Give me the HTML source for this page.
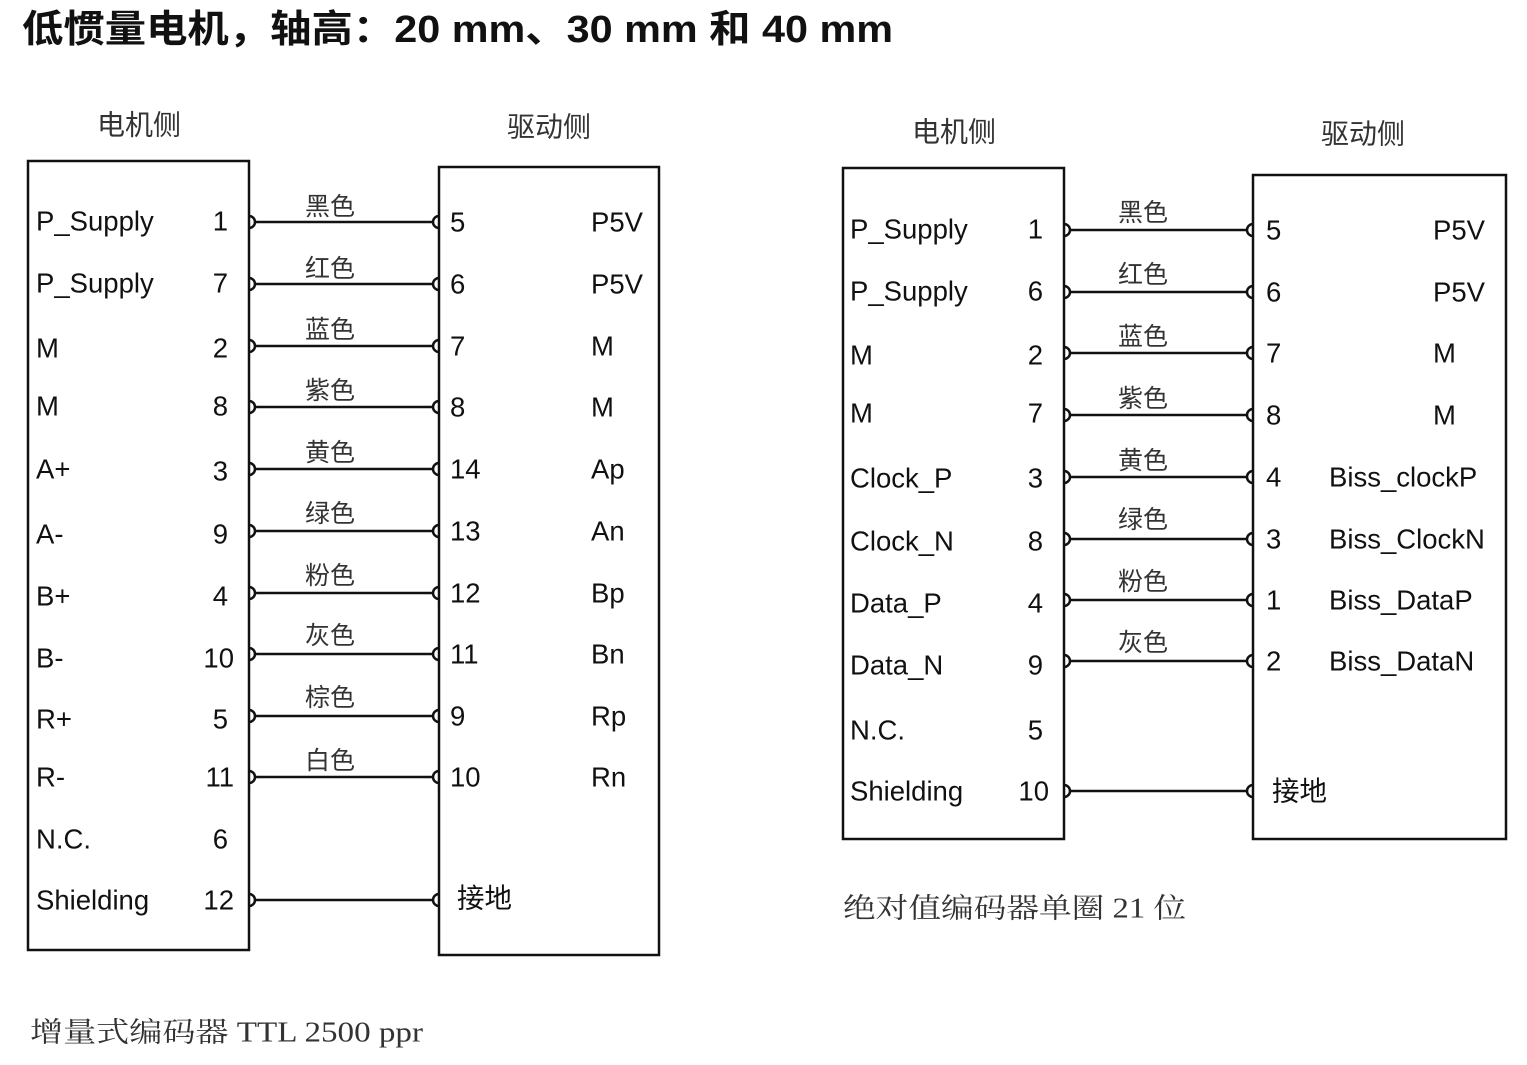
<!DOCTYPE html>
<html><head><meta charset="utf-8"><style>
html,body{margin:0;padding:0;background:#fff;width:1527px;height:1065px;overflow:hidden}
svg text{font-family:"Liberation Sans","Noto Sans CJK SC",sans-serif;fill:#111}
.t{font-size:27.5px;dominant-baseline:central}
.c{font-size:25px;dominant-baseline:central;text-anchor:middle;fill:#333}
.h{font-size:28px;dominant-baseline:central;text-anchor:middle;fill:#333}
.s{font-family:"Liberation Serif","Noto Serif CJK SC",serif !important;font-size:28px;dominant-baseline:central;fill:#333}
.e{text-anchor:end}
</style></head><body>
<svg width="1527" height="1065" xmlns="http://www.w3.org/2000/svg">
<text x="22" y="30" font-size="38" font-weight="bold" dominant-baseline="central" textLength="871" lengthAdjust="spacingAndGlyphs">低惯量电机，轴高：20 mm、30 mm 和 40 mm</text>
<g fill="none" stroke="#111" stroke-width="2.5">
<rect x="28" y="161" width="221" height="789"/>
<rect x="439" y="167" width="220" height="788"/>
<rect x="843" y="168" width="221" height="671"/>
<rect x="1253" y="175" width="253" height="664"/>
</g>
<text class="h" x="139" y="125">电机侧</text>
<text class="h" x="549" y="127">驱动侧</text>
<text class="h" x="954" y="132">电机侧</text>
<text class="h" x="1363" y="134">驱动侧</text>
<g fill="none" stroke="#111" stroke-width="2.5">
<path d="M249 216a6 6 0 0 1 0 12M254 222H433M439 216a6 6 0 0 0 0 12"/>
<path d="M249 278a6 6 0 0 1 0 12M254 284H433M439 278a6 6 0 0 0 0 12"/>
<path d="M249 340a6 6 0 0 1 0 12M254 346H433M439 340a6 6 0 0 0 0 12"/>
<path d="M249 401a6 6 0 0 1 0 12M254 407H433M439 401a6 6 0 0 0 0 12"/>
<path d="M249 463a6 6 0 0 1 0 12M254 469H433M439 463a6 6 0 0 0 0 12"/>
<path d="M249 525a6 6 0 0 1 0 12M254 531H433M439 525a6 6 0 0 0 0 12"/>
<path d="M249 587a6 6 0 0 1 0 12M254 593H433M439 587a6 6 0 0 0 0 12"/>
<path d="M249 648a6 6 0 0 1 0 12M254 654H433M439 648a6 6 0 0 0 0 12"/>
<path d="M249 710a6 6 0 0 1 0 12M254 716H433M439 710a6 6 0 0 0 0 12"/>
<path d="M249 771a6 6 0 0 1 0 12M254 777H433M439 771a6 6 0 0 0 0 12"/>
<path d="M249 894a6 6 0 0 1 0 12M254 900H433M439 894a6 6 0 0 0 0 12"/>
</g>
<g fill="none" stroke="#111" stroke-width="2.5">
<path d="M1064 224a6 6 0 0 1 0 12M1069 230H1247M1253 224a6 6 0 0 0 0 12"/>
<path d="M1064 286a6 6 0 0 1 0 12M1069 292H1247M1253 286a6 6 0 0 0 0 12"/>
<path d="M1064 347a6 6 0 0 1 0 12M1069 353H1247M1253 347a6 6 0 0 0 0 12"/>
<path d="M1064 409a6 6 0 0 1 0 12M1069 415H1247M1253 409a6 6 0 0 0 0 12"/>
<path d="M1064 471a6 6 0 0 1 0 12M1069 477H1247M1253 471a6 6 0 0 0 0 12"/>
<path d="M1064 533a6 6 0 0 1 0 12M1069 539H1247M1253 533a6 6 0 0 0 0 12"/>
<path d="M1064 594a6 6 0 0 1 0 12M1069 600H1247M1253 594a6 6 0 0 0 0 12"/>
<path d="M1064 655a6 6 0 0 1 0 12M1069 661H1247M1253 655a6 6 0 0 0 0 12"/>
<path d="M1064 785a6 6 0 0 1 0 12M1069 791H1247M1253 785a6 6 0 0 0 0 12"/>
</g>
<text class="t" x="36" y="221">P_Supply</text><text class="t e" x="228" y="221">1</text>
<text class="t" x="36" y="283">P_Supply</text><text class="t e" x="228" y="283">7</text>
<text class="t" x="36" y="348">M</text><text class="t e" x="228" y="348">2</text>
<text class="t" x="36" y="406">M</text><text class="t e" x="228" y="406">8</text>
<text class="t" x="36" y="469">A+</text><text class="t e" x="228" y="471">3</text>
<text class="t" x="36" y="534">A-</text><text class="t e" x="228" y="534">9</text>
<text class="t" x="36" y="596">B+</text><text class="t e" x="228" y="596">4</text>
<text class="t" x="36" y="658">B-</text><text class="t e" x="234" y="658">10</text>
<text class="t" x="36" y="719">R+</text><text class="t e" x="228" y="719">5</text>
<text class="t" x="36" y="777">R-</text><text class="t e" x="234" y="777">11</text>
<text class="t" x="36" y="839">N.C.</text><text class="t e" x="228" y="839">6</text>
<text class="t" x="36" y="900">Shielding</text><text class="t e" x="234" y="900">12</text>
<text class="t" x="450" y="222">5</text><text class="t" x="591" y="222">P5V</text>
<text class="t" x="450" y="284">6</text><text class="t" x="591" y="284">P5V</text>
<text class="t" x="450" y="346">7</text><text class="t" x="591" y="346">M</text>
<text class="t" x="450" y="407">8</text><text class="t" x="591" y="407">M</text>
<text class="t" x="450" y="469">14</text><text class="t" x="591" y="469">Ap</text>
<text class="t" x="450" y="531">13</text><text class="t" x="591" y="531">An</text>
<text class="t" x="450" y="593">12</text><text class="t" x="591" y="593">Bp</text>
<text class="t" x="450" y="654">11</text><text class="t" x="591" y="654">Bn</text>
<text class="t" x="450" y="716">9</text><text class="t" x="591" y="716">Rp</text>
<text class="t" x="450" y="777">10</text><text class="t" x="591" y="777">Rn</text>
<text class="t" x="457" y="898">接地</text>
<text class="c" x="330" y="207">黑色</text>
<text class="c" x="330" y="269">红色</text>
<text class="c" x="330" y="330">蓝色</text>
<text class="c" x="330" y="391">紫色</text>
<text class="c" x="330" y="453">黄色</text>
<text class="c" x="330" y="514">绿色</text>
<text class="c" x="330" y="576">粉色</text>
<text class="c" x="330" y="636">灰色</text>
<text class="c" x="330" y="698">棕色</text>
<text class="c" x="330" y="761">白色</text>
<text class="t" x="850" y="229">P_Supply</text><text class="t e" x="1043" y="229">1</text>
<text class="t" x="850" y="291">P_Supply</text><text class="t e" x="1043" y="291">6</text>
<text class="t" x="850" y="355">M</text><text class="t e" x="1043" y="355">2</text>
<text class="t" x="850" y="413">M</text><text class="t e" x="1043" y="413">7</text>
<text class="t" x="850" y="478">Clock_P</text><text class="t e" x="1043" y="478">3</text>
<text class="t" x="850" y="541">Clock_N</text><text class="t e" x="1043" y="541">8</text>
<text class="t" x="850" y="603">Data_P</text><text class="t e" x="1043" y="603">4</text>
<text class="t" x="850" y="665">Data_N</text><text class="t e" x="1043" y="665">9</text>
<text class="t" x="850" y="730">N.C.</text><text class="t e" x="1043" y="730">5</text>
<text class="t" x="850" y="791">Shielding</text><text class="t e" x="1049" y="791">10</text>
<text class="t" x="1266" y="230">5</text><text class="t" x="1433" y="230">P5V</text>
<text class="t" x="1266" y="292">6</text><text class="t" x="1433" y="292">P5V</text>
<text class="t" x="1266" y="353">7</text><text class="t" x="1433" y="353">M</text>
<text class="t" x="1266" y="415">8</text><text class="t" x="1433" y="415">M</text>
<text class="t" x="1266" y="477">4</text><text class="t" x="1329" y="477">Biss_clockP</text>
<text class="t" x="1266" y="539">3</text><text class="t" x="1329" y="539">Biss_ClockN</text>
<text class="t" x="1266" y="600">1</text><text class="t" x="1329" y="600">Biss_DataP</text>
<text class="t" x="1266" y="661">2</text><text class="t" x="1329" y="661">Biss_DataN</text>
<text class="t" x="1272" y="791">接地</text>
<text class="c" x="1143" y="213">黑色</text>
<text class="c" x="1143" y="275">红色</text>
<text class="c" x="1143" y="337">蓝色</text>
<text class="c" x="1143" y="399">紫色</text>
<text class="c" x="1143" y="461">黄色</text>
<text class="c" x="1143" y="520">绿色</text>
<text class="c" x="1143" y="582">粉色</text>
<text class="c" x="1143" y="643">灰色</text>
<text class="s" x="30" y="1033" textLength="393" lengthAdjust="spacingAndGlyphs">增量式编码器 TTL 2500 ppr</text>
<text class="s" x="843" y="909" textLength="343" lengthAdjust="spacingAndGlyphs">绝对值编码器单圈 21 位</text>
</svg>
</body></html>
